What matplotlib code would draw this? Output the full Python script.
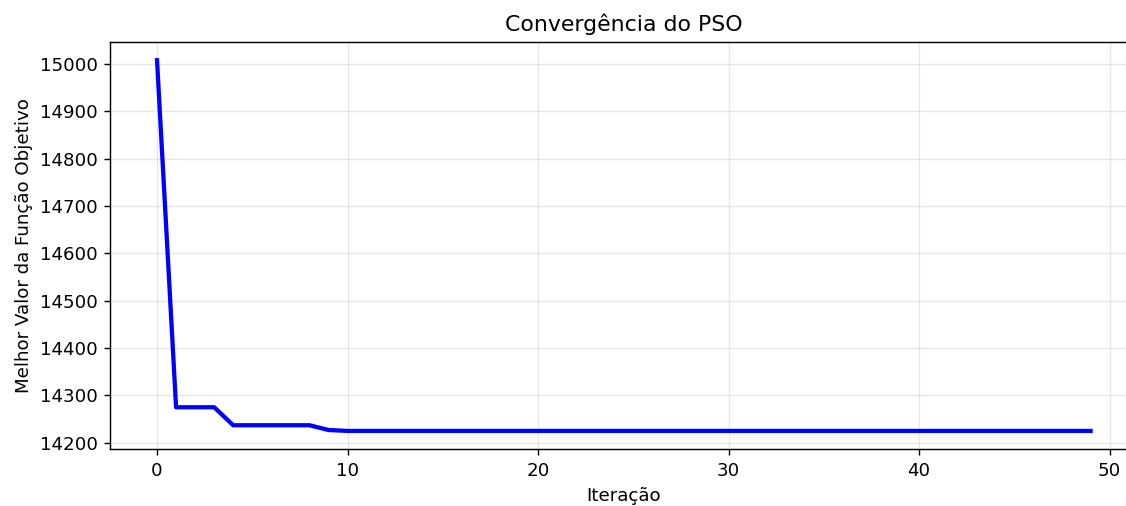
import numpy as np
from matplotlib import pyplot as plt

# melhor valor por iteracao
iteracoes = list(range(50))
melhor_valor = [15008, 14275, 14275, 14275, 14237, 14237, 14237, 14237, 14237, 14227] + [14225] * 40

plt.rcParams["font.size"] = 10.3

fig = plt.figure(figsize=(1126 / 128, 506 / 128), dpi=128)
ax = fig.add_axes([0.098, 0.1117, 0.912, 0.806])

ax.plot(iteracoes, melhor_valor, color="blue", linewidth=2.4)
ax.set_title("Convergência do PSO", fontsize=12.4)
ax.set_xlabel("Iteração")
ax.set_ylabel("Melhor Valor da Função Objetivo")
ax.grid(True, alpha=0.3)

fig.savefig("out.png", dpi=128)
